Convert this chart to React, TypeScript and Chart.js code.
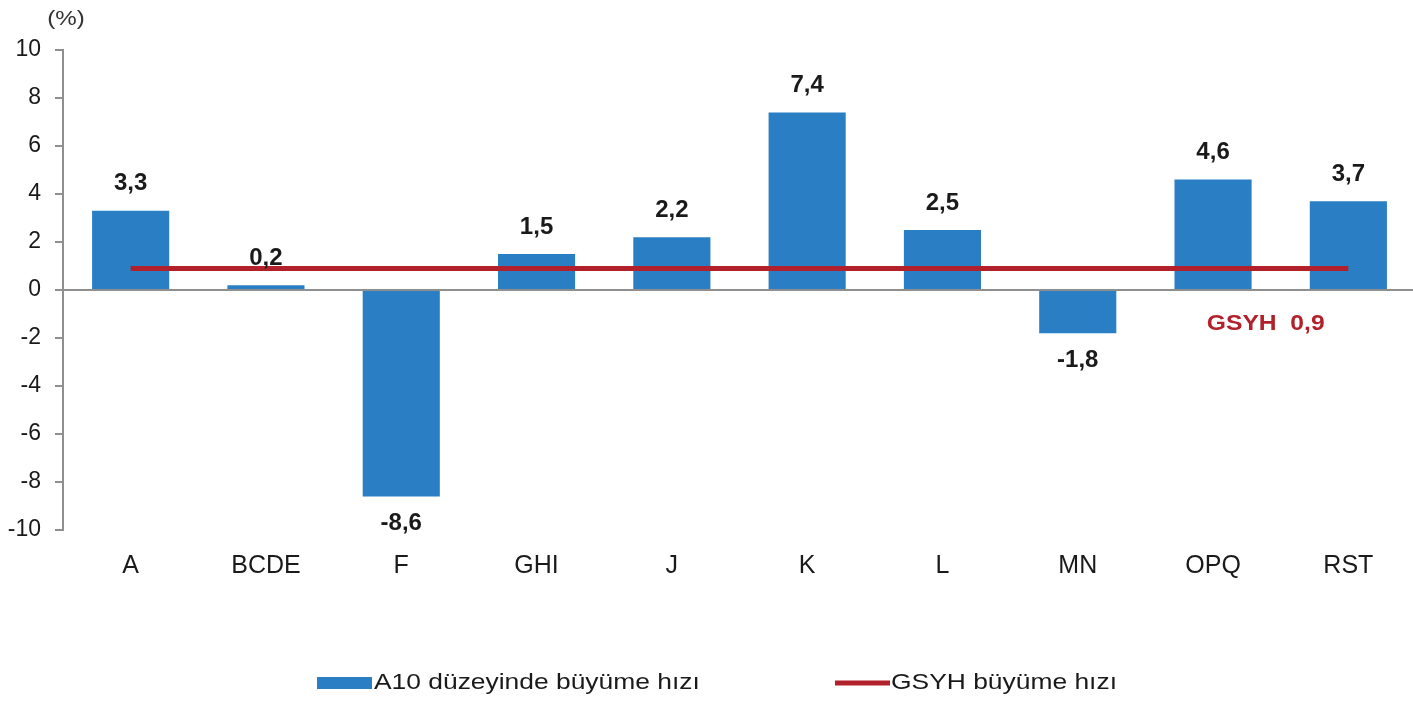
import React, { useEffect, useRef } from 'react';
import { Chart, registerables } from 'chart.js';

Chart.register(...registerables);

// ---- Data ----
const categories = ['A', 'BCDE', 'F', 'GHI', 'J', 'K', 'L', 'MN', 'OPQ', 'RST'];
const sectorGrowth = [3.3, 0.2, -8.6, 1.5, 2.2, 7.4, 2.5, -1.8, 4.6, 3.7];
const gdpGrowth = 0.9;
const gdpLine = [0.9, 0.9, 0.9, 0.9, 0.9, 0.9, 0.9, 0.9, 0.9, 0.9];
const yMin = -10;
const yMax = 10;
const yStep = 2;
const unitLabel = '(%)';
const barLabel = 'A10 düzeyinde büyüme hızı';
const lineLabel = 'GSYH büyüme hızı';
const gdpAnnotation = 'GSYH';

// ---- Styles ----
const FONT = '"Liberation Sans", Arial, sans-serif';
const BAR_COLOR = '#2A7EC3';
const LINE_COLOR = '#B2212B';
const AXIS_COLOR = '#8f8f8f';
const TEXT_COLOR = '#1a1a1a';

const fmt = (v: number) => v.toFixed(1).replace('.', ',');

function drawStretched(ctx: CanvasRenderingContext2D, text: string, x: number, y: number, sx: number, align: CanvasTextAlign) {
  ctx.save();
  ctx.translate(x, y);
  ctx.scale(sx, 1);
  ctx.textAlign = align;
  ctx.fillText(text, 0, 0);
  ctx.restore();
}

const extrasPlugin = {
  id: 'extras',
  afterDatasetsDraw(chart: any) {
    const ctx: CanvasRenderingContext2D = chart.ctx;
    const xs = chart.scales.x;
    const ys = chart.scales.y;
    ctx.save();

    // value labels
    const barIndex = chart.data.datasets.findIndex((d: any) => d.type === 'bar');
    const meta = chart.getDatasetMeta(barIndex);
    ctx.font = `bold 24px ${FONT}`;
    ctx.fillStyle = TEXT_COLOR;
    ctx.textAlign = 'center';
    ctx.textBaseline = 'middle';
    meta.data.forEach((el: any, i: number) => {
      const v = sectorGrowth[i];
      const y = v >= 0 ? el.y - 27 : el.y + 27;
      ctx.fillText(fmt(v), el.x, y);
    });

    // unit label
    ctx.font = `21px ${FONT}`;
    ctx.fillStyle = '#333';
    drawStretched(ctx, unitLabel, chart.chartArea.left + 3, 19, 1.15, 'center');

    // GDP annotation
    ctx.font = `bold 22px ${FONT}`;
    ctx.fillStyle = LINE_COLOR;
    const ax = (xs.getPixelForValue(8) + xs.getPixelForValue(9)) / 2 - 15;
    const ay = ys.getPixelForValue(gdpGrowth) + 56;
    drawStretched(ctx, `${gdpAnnotation}  ${fmt(gdpGrowth)}`, ax, ay, 1.12, 'center');

    // legend
    const ly = 683;
    ctx.fillStyle = BAR_COLOR;
    ctx.fillRect(317, ly - 6, 55, 12);
    ctx.font = `22px ${FONT}`;
    ctx.fillStyle = TEXT_COLOR;
    drawStretched(ctx, barLabel, 374, ly, 1.2, 'left');

    ctx.strokeStyle = LINE_COLOR;
    ctx.lineWidth = 5;
    ctx.beginPath();
    ctx.moveTo(835, ly);
    ctx.lineTo(890, ly);
    ctx.stroke();
    ctx.fillStyle = TEXT_COLOR;
    drawStretched(ctx, lineLabel, 891, ly, 1.2, 'left');

    ctx.restore();
  },
};

export default function App() {
  const canvasRef = useRef<HTMLCanvasElement | null>(null);

  useEffect(() => {
    const canvas = canvasRef.current;
    if (!canvas) return;
    const chart = new Chart(canvas, {
      type: 'bar',
      data: {
        labels: categories,
        datasets: [
          {
            type: 'line',
            label: lineLabel,
            data: gdpLine,
            borderColor: LINE_COLOR,
            backgroundColor: LINE_COLOR,
            borderWidth: 5,
            pointRadius: 0,
            pointHoverRadius: 0,
            tension: 0,
            fill: false,
            order: 0,
          } as any,
          {
            type: 'bar',
            label: barLabel,
            data: sectorGrowth,
            backgroundColor: BAR_COLOR,
            borderWidth: 0,
            barPercentage: 0.57,
            categoryPercentage: 1,
            order: 1,
          } as any,
        ],
      },
      options: {
        responsive: false,
        maintainAspectRatio: false,
        animation: false,
        devicePixelRatio: 1,
        layout: { padding: { top: 50, right: 0, bottom: 112, left: 0 } },
        plugins: {
          legend: { display: false },
          tooltip: { enabled: false },
        },
        scales: {
          x: {
            offset: true,
            grid: { display: false, drawTicks: false },
            border: { display: false },
            ticks: {
              font: { family: FONT, size: 25 },
              color: TEXT_COLOR,
              padding: 21,
              autoSkip: false,
              maxRotation: 0,
            },
            afterFit: (scale: any) => {
              scale.height = 60;
            },
          },
          y: {
            min: yMin,
            max: yMax,
            ticks: {
              stepSize: yStep,
              font: { family: FONT, size: 23 },
              color: TEXT_COLOR,
              padding: 14,
            },
            grid: {
              color: (c: any) => (c.tick && c.tick.value === 0 ? AXIS_COLOR : 'rgba(0,0,0,0)'),
              tickColor: AXIS_COLOR,
              lineWidth: 2,
              tickLength: 8,
              drawTicks: true,
            },
            border: { display: true, color: AXIS_COLOR, width: 2 },
            afterFit: (scale: any) => {
              scale.width = 63;
            },
          },
        },
      },
      plugins: [extrasPlugin],
    });
    return () => chart.destroy();
  }, []);

  return (
    <div
      style={{
        position: 'fixed',
        left: 0,
        top: 0,
        width: 1413,
        height: 702,
        overflow: 'hidden',
        background: '#fff',
      }}
    >
      <canvas ref={canvasRef} width={1416} height={702} style={{ display: 'block', width: 1416, height: 702 }} />
    </div>
  );
}
